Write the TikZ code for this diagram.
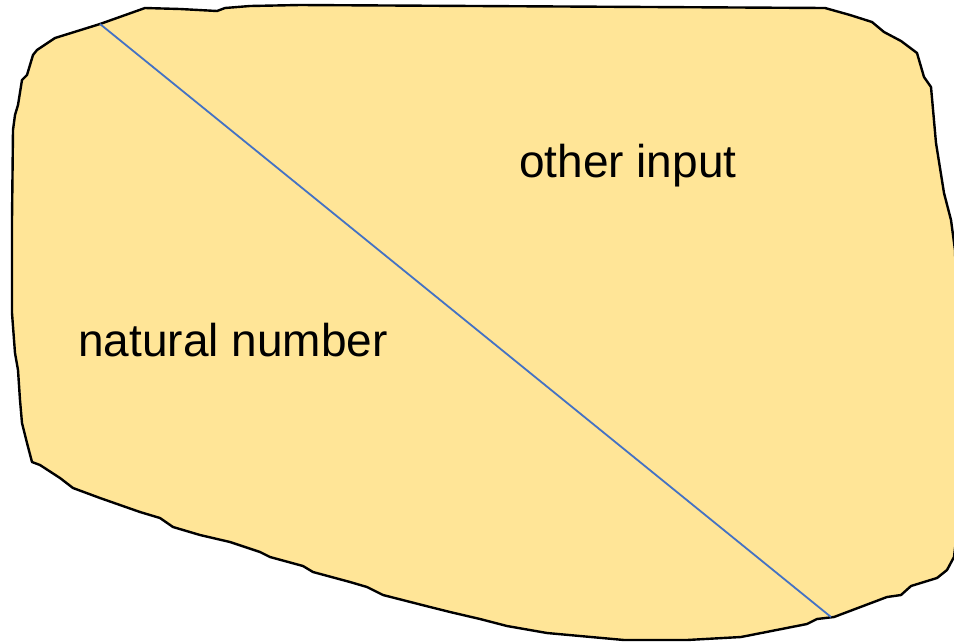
\documentclass[tikz,border=0pt]{standalone}
\usepackage{fontspec}
\setmainfont{Liberation Sans}
\definecolor{blobfill}{HTML}{FFE597}
\definecolor{divider}{HTML}{4472C4}
\begin{document}
\begin{tikzpicture}[x=1pt,y=-1pt,
  blob/.style={fill=blobfill,draw=black,line width=2.4pt,line join=round},
  divline/.style={draw=divider,line width=1.8pt},
  lbl/.style={font=\fontsize{46}{50}\selectfont,inner sep=0pt,anchor=base west}]
\useasboundingbox (0,0) rectangle (954,641);
\draw[blob] (100,24)--(145,8)--(180,9)--(217,11)--(225,8)--(250,6)--(300,5)--(825,8)--(850,15)--(872,22)--(884,32)--(901,41)--(917,53)--(924,77)--(931,87)--(936,143)--(944,193)--(951,220)--(955,250)--(958,350)--(958,450)--(956,540)--(954,557)--(947,570)--(937,578)--(911,586)--(901,595)--(887,597)--(834,617)--(817,619)--(807,624)--(741,637)--(687,640)--(624,640)--(547,633)--(507,626)--(480,619)--(450,612)--(430,607)--(383,595)--(367,587)--(350,582)--(313,572)--(303,566)--(270,557)--(260,552)--(230,542)--(200,535)--(173,527)--(160,518)--(140,512)--(100,498)--(73,488)--(60,478)--(40,465)--(32,462)--(27,443)--(22,423)--(20,400)--(18,370)--(15,353)--(12,313)--(12,220)--(13,130)--(15,115)--(18,105)--(22,80)--(27,75)--(33,55)--(37,50)--(55,38)--cycle;
\coordinate (dtop) at (100,24);
\coordinate (dbot) at (831,617);
\draw[divline] (dtop) -- (dbot);
\node[lbl] (other) at (519,177) {other input};
\node[lbl] (natural) at (78,356) {natural number};
\end{tikzpicture}
\end{document}
